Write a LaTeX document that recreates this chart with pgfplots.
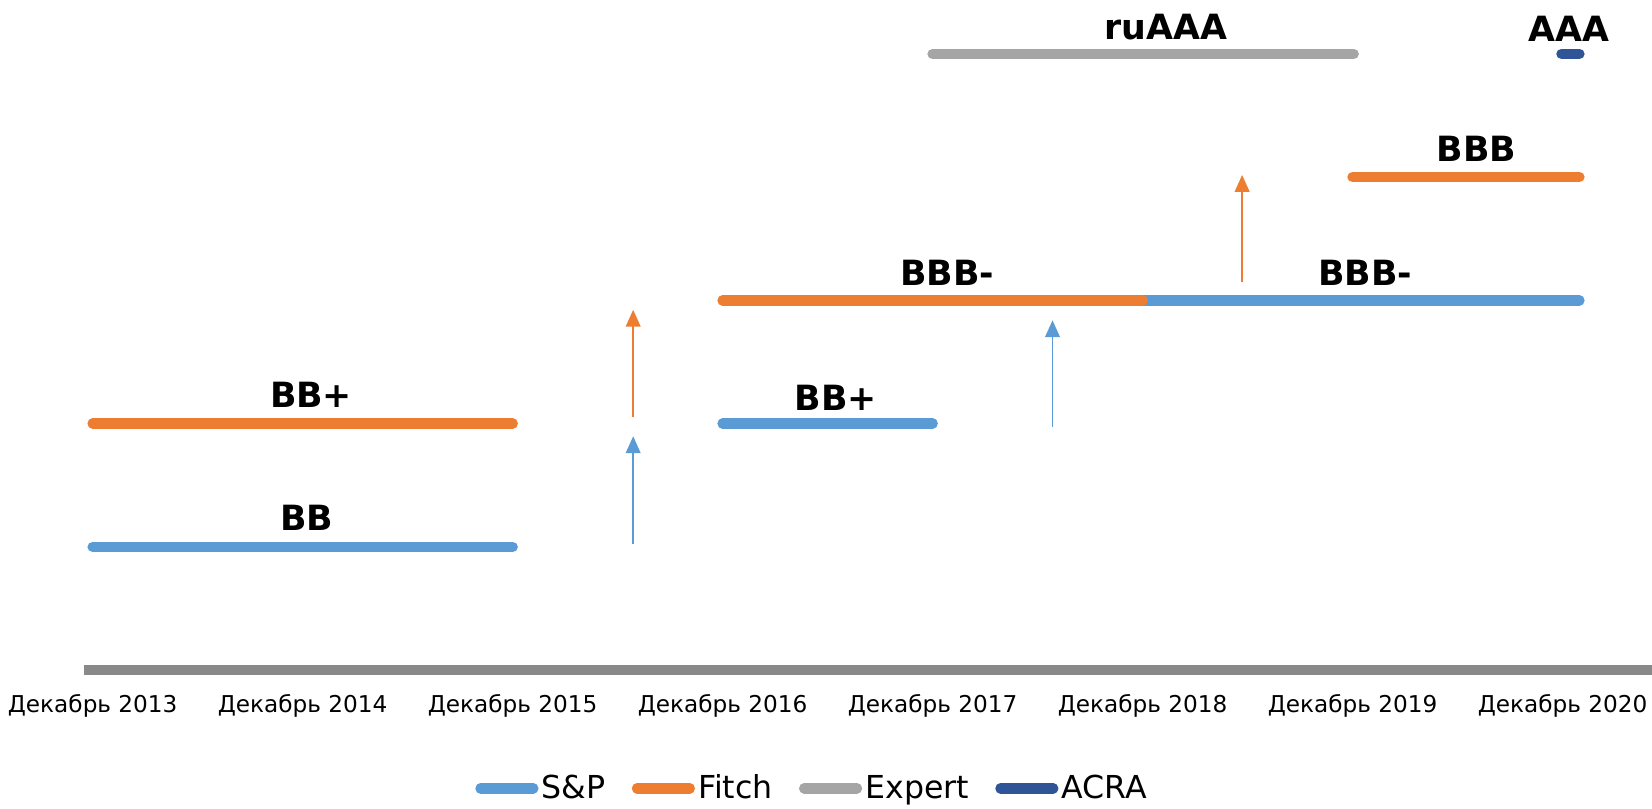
\documentclass[border=0pt]{standalone}
\usepackage{pgfplots}
\pgfplotsset{compat=1.18}
\usetikzlibrary{arrows.meta}
\usepackage{fontspec}
\setmainfont{DejaVu Sans}
\definecolor{spblue}{HTML}{5B9BD5}
\definecolor{fitchor}{HTML}{ED7D31}
\definecolor{expgray}{HTML}{A5A5A5}
\definecolor{acrablue}{HTML}{2F5597}
\definecolor{axgray}{HTML}{898989}
\begin{document}
\begin{tikzpicture}
\useasboundingbox (-40pt,-65.5pt) rectangle (744pt,318pt);
\begin{axis}[
  at={(0pt,0pt)}, anchor=south west,
  scale only axis, width=744pt, height=310pt,
  xmin=-0.04, xmax=7.426, ymin=0, ymax=5.3,
  axis x line*=bottom, axis y line=none,
  x axis line style={line width=5pt, color=axgray, line cap=butt},
  xtick={0,...,7},
  xticklabels={Декабрь 2013,Декабрь 2014,Декабрь 2015,Декабрь 2016,Декабрь 2017,Декабрь 2018,Декабрь 2019,Декабрь 2020},
  xticklabel style={font=\fontsize{11}{13}\selectfont, yshift=-8pt},
  major tick length=0pt, ytick=\empty,
  clip=false,
  unbounded coords=jump,
  every axis plot/.append style={line width=5pt, line cap=round},
  legend style={at={(axis description cs:0.464,-0.181)}, anchor=center, draw=none,
    font=\fontsize{15}{18}\selectfont,
    nodes={inner xsep=0.5pt},
    /tikz/every odd column/.append style={column sep=1pt},
    /tikz/every even column/.append style={column sep=12pt}},
  legend columns=-1,
  legend image code/.code={\draw[#1, line cap=round] (0pt,0pt) -- (25pt,0pt);},
]
% S&P
\addplot[spblue] coordinates {(0,1) (2,1) (2.5,nan) (3,2) (4,2) (4.5,nan) (5,3) (7.08,3)};
\addlegendentry{S\&P}
% Fitch
\addplot[fitchor] coordinates {(0,2) (2,2) (2.5,nan) (3,3) (5,3) (5.5,nan) (6,4) (7.08,4)};
\addlegendentry{Fitch}
% Expert
\addplot[expgray] coordinates {(4,5) (6.005,5)};
\addlegendentry{Expert}
% ACRA
\addplot[acrablue] coordinates {(6.995,5) (7.08,5)};
\addlegendentry{ACRA}
% upgrade arrows
\addplot[spblue, line width=0.75pt, line cap=butt, -{Triangle[width=7pt,length=8pt]}, forget plot] coordinates {(2.574,1.026) (2.574,1.897)};
\addplot[fitchor, line width=0.75pt, line cap=butt, -{Triangle[width=7pt,length=8pt]}, forget plot] coordinates {(2.574,2.05) (2.574,2.923)};
\addplot[spblue, line width=0.75pt, line cap=butt, -{Triangle[width=7pt,length=8pt]}, forget plot] coordinates {(4.571,1.974) (4.571,2.838)};
\addplot[fitchor, line width=0.75pt, line cap=butt, -{Triangle[width=7pt,length=8pt]}, forget plot] coordinates {(5.474,3.145) (5.474,4.017)};
% rating labels
\tikzset{rl/.style={font=\fontsize{16.5}{19}\selectfont\bfseries, anchor=base, inner sep=0pt}}
\node[rl] at (axis cs:1.02,1.13) {BB};
\node[rl] at (axis cs:1.04,2.13) {BB+};
\node[rl] at (axis cs:3.54,2.11) {BB+};
\node[rl] at (axis cs:4.07,3.12) {BBB-};
\node[rl] at (axis cs:6.06,3.12) {BBB-};
\node[rl] at (axis cs:6.59,4.13) {BBB};
\node[rl] at (axis cs:5.11,5.12) {ruAAA};
\node[rl] at (axis cs:7.03,5.1) {AAA};
\end{axis}
\end{tikzpicture}
\end{document}
